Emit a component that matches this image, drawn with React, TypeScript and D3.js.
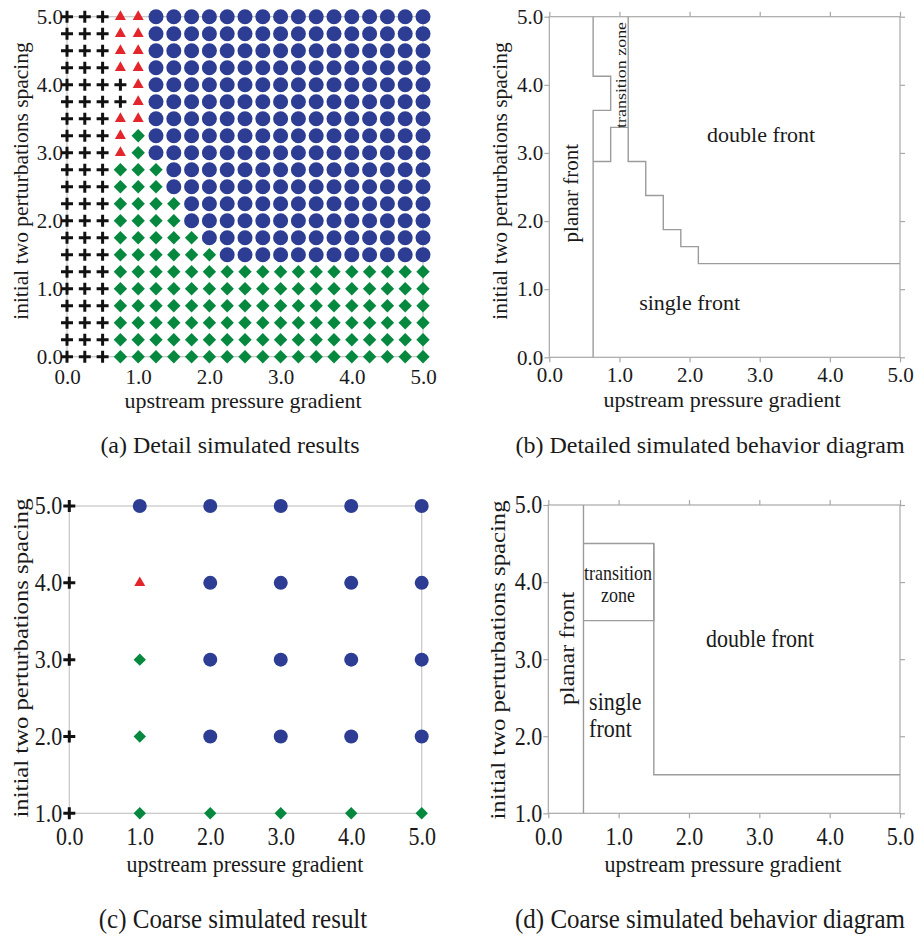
import { useEffect, useRef } from "react";
import * as d3 from "d3";

// fine grid (a), one string per row from spacing 5.0 down to 0.0
// P = planar front (+), T = transition zone (▲), S = single front (◆), D = double front (●)
const FINE_X = [0, 0.25, 0.5, 0.75, 1, 1.25, 1.5, 1.75, 2, 2.25, 2.5, 2.75, 3, 3.25, 3.5, 3.75, 4, 4.25, 4.5, 4.75, 5];
const FINE_Y = [5, 4.75, 4.5, 4.25, 4, 3.75, 3.5, 3.25, 3, 2.75, 2.5, 2.25, 2, 1.75, 1.5, 1.25, 1, 0.75, 0.5, 0.25, 0];
const FINE_RESULTS = [
  "PPP TT DDDD DDDD DDDD DDDD",
  "PPP TT DDDD DDDD DDDD DDDD",
  "PPP TT DDDD DDDD DDDD DDDD",
  "PPP TT DDDD DDDD DDDD DDDD",
  "PPPP T DDDD DDDD DDDD DDDD",
  "PPPP T DDDD DDDD DDDD DDDD",
  "PPP TT DDDD DDDD DDDD DDDD",
  "PPP T S DDDD DDDD DDDD DDDD",
  "PPP T S DDDD DDDD DDDD DDDD",
  "PPP SSS DDD DDDD DDDD DDDD",
  "PPP SSS DDD DDDD DDDD DDDD",
  "PPP SSSS DD DDDD DDDD DDDD",
  "PPP SSSS DD DDDD DDDD DDDD",
  "PPP SSSSS D DDDD DDDD DDDD",
  "PPP SSSSSS DDDD DDDD DDDD",
  "PPP SS SSSS SSSS SSSS SSSS",
  "PPP SS SSSS SSSS SSSS SSSS",
  "PPP SS SSSS SSSS SSSS SSSS",
  "PPP SS SSSS SSSS SSSS SSSS",
  "PPP SS SSSS SSSS SSSS SSSS",
  "PPP SS SSSS SSSS SSSS SSSS",
];

// coarse grid (c)
const COARSE_X = [0, 1, 2, 3, 4, 5];
const COARSE_Y = [5, 4, 3, 2, 1];
const COARSE_RESULTS = ["PDDDDD", "PTDDDD", "PSDDDD", "PSDDDD", "PSSSSS"];

const TICKS_X = [0, 1, 2, 3, 4, 5];
const TICKS_FINE_Y = [0, 1, 2, 3, 4, 5];
const TICKS_COARSE_Y = [1, 2, 3, 4, 5];

// behaviour boundaries, in data units
const FINE_BOUNDS: [number, number][][] = [
  [[0.625, 5], [0.625, 4.125], [0.875, 4.125], [0.875, 3.625], [0.625, 3.625], [0.625, 0]],
  [[0.625, 2.875], [0.875, 2.875], [0.875, 3.375], [1.125, 3.375]],
  [[1.125, 5], [1.125, 2.875], [1.375, 2.875], [1.375, 2.375], [1.625, 2.375], [1.625, 1.875],
   [1.875, 1.875], [1.875, 1.625], [2.125, 1.625], [2.125, 1.375], [5, 1.375]],
];
const COARSE_BOUNDS: [number, number][][] = [
  [[0.5, 1], [0.5, 5]],
  [[0.5, 4.5], [1.5, 4.5], [1.5, 3.5], [0.5, 3.5]],
  [[1.5, 4.5], [1.5, 1.5], [5, 1.5]],
];

const SERIF = "'Liberation Serif', 'Times New Roman', serif";
const INK = "#1a1a1a";
const COLORS: Record<string, string> = { P: "#111111", T: "#e3262b", S: "#06893f", D: "#2c3d93" };
const SY = 1.12; // lower row of the figure is drawn a little taller
const fmt = d3.format(".1f");

type G = d3.Selection<SVGGElement, unknown, null, undefined>;

function label(g: G, str: string, x: number, y: number, size: number, o: { anchor?: string; rotate?: boolean; sy?: number; len?: number } = {}) {
  const t = g
    .append("text")
    .attr("transform", `translate(${x},${y}) scale(1,${o.sy ?? 1})${o.rotate ? " rotate(-90)" : ""}`)
    .attr("text-anchor", o.anchor ?? "middle")
    .attr("font-family", SERIF)
    .attr("font-size", size)
    .attr("fill", INK)
    .text(str);
  if (o.rotate) t.attr("dy", "0.3em");
  if (o.len) t.attr("textLength", o.len).attr("lengthAdjust", "spacingAndGlyphs");
  return t;
}

function styleAxis(a: G, size: number, sy: number, color: string) {
  a.select(".domain").remove();
  a.selectAll(".tick line").attr("stroke", color).attr("stroke-width", 1.2);
  a.selectAll("text").attr("font-size", size).attr("font-family", SERIF).attr("fill", INK);
  if (sy !== 1) a.selectAll("text").attr("transform", `scale(1,${sy})`);
}

function markers(g: G, xs: number[], ys: number[], rows: string[], x: d3.ScaleLinear<number, number>, y: d3.ScaleLinear<number, number>, r: number, h: number, tri: number, a: number) {
  const cells = rows.flatMap((row, i) =>
    row.replace(/ /g, "").split("").map((c, j) => ({ x: xs[j], y: ys[i], c }))
  );
  const shape = (c: string) =>
    c === "D"
      ? d3.symbol(d3.symbolCircle, Math.PI * r * r)()!
      : c === "S"
      ? `M0,${-h}L${h},0L0,${h}L${-h},0Z`
      : c === "T"
      ? d3.symbol(d3.symbolTriangle, (tri * tri * Math.sqrt(3)) / 4)()!
      : `M${-a},0H${a}M0,${-a}V${a}`;
  g.append("g")
    .selectAll("path")
    .data(cells)
    .join("path")
    .attr("transform", (d) => `translate(${x(d.x)},${y(d.y)})`)
    .attr("d", (d) => shape(d.c))
    .attr("fill", (d) => (d.c === "P" ? "none" : COLORS[d.c]))
    .attr("stroke", (d) => (d.c === "P" ? COLORS.P : "none"))
    .attr("stroke-width", 3);
}

function boxAxes(g: G, x: d3.ScaleLinear<number, number>, y: d3.ScaleLinear<number, number>, yTicks: number[], size: number, sy: number, pad: number) {
  const c = "#a8a8a8";
  const [x0, x1] = x.range();
  const [y0, y1] = y.range();
  g.append("rect").attr("x", x0).attr("y", y1).attr("width", x1 - x0).attr("height", y0 - y1).attr("fill", "none").attr("stroke", c).attr("stroke-width", 1.2);
  const b = g.append("g").attr("transform", `translate(0,${y0})`).call(d3.axisBottom(x).tickValues(TICKS_X).tickFormat(fmt).tickSize(5).tickPadding(pad));
  styleAxis(b, size, sy, c);
  const l = g.append("g").attr("transform", `translate(${x0},0)`).call(d3.axisLeft(y).tickValues(yTicks).tickFormat(fmt).tickSize(5).tickPadding(1));
  styleAxis(l, size, sy, c);
  const t = g.append("g").attr("transform", `translate(0,${y1})`).call(d3.axisTop(x).tickValues(TICKS_X).tickFormat(() => "").tickSize(5));
  styleAxis(t, size, 1, c);
  const r = g.append("g").attr("transform", `translate(${x1},0)`).call(d3.axisRight(y).tickValues(yTicks).tickFormat(() => "").tickSize(5));
  styleAxis(r, size, 1, c);
}

function plainAxes(g: G, x: d3.ScaleLinear<number, number>, y: d3.ScaleLinear<number, number>, yTicks: number[], size: number, sy: number, padX: number, padY: number) {
  const [x0, x1] = x.range();
  const [y0, y1] = y.range();
  g.append("rect").attr("x", x0).attr("y", y1).attr("width", x1 - x0).attr("height", y0 - y1).attr("fill", "none").attr("stroke", "#c6c6c6").attr("stroke-width", 1.2);
  const b = g.append("g").attr("transform", `translate(0,${y0})`).call(d3.axisBottom(x).tickValues(TICKS_X).tickFormat(fmt).tickSize(0).tickPadding(padX));
  styleAxis(b, size, sy, "none");
  const l = g.append("g").attr("transform", `translate(${x0},0)`).call(d3.axisLeft(y).tickValues(yTicks).tickFormat(fmt).tickSize(0).tickPadding(padY));
  styleAxis(l, size, sy, "none");
}

export default function App() {
  const ref = useRef<SVGSVGElement>(null);

  useEffect(() => {
    if (!ref.current) return;
    const svg = d3.select(ref.current);
    svg.selectAll("*").remove();
    const root = svg.append("g") as unknown as G;
    const line = (x: d3.ScaleLinear<number, number>, y: d3.ScaleLinear<number, number>) =>
      d3.line<[number, number]>().x((d) => x(d[0])).y((d) => y(d[1]));
    const Y_TITLE = "initial two perturbations spacing";
    const X_TITLE = "upstream pressure gradient";

    // (a) detail simulated results
    const xA = d3.scaleLinear().domain([0, 5]).range([67, 423]);
    const yA = d3.scaleLinear().domain([0, 5]).range([356.7, 16.7]);
    const gA = root.append("g") as G;
    plainAxes(gA, xA, yA, TICKS_FINE_Y, 21, 1, 12, 4);
    markers(gA, FINE_X, FINE_Y, FINE_RESULTS, xA, yA, 7.5, 6.7, 11, 6);
    label(gA, X_TITLE, 243, 408, 22);
    label(gA, Y_TITLE, 22, 181, 21.5, { rotate: true });
    label(gA, "(a) Detail simulated results", 230, 453, 24);

    // (b) detailed behaviour diagram
    const xB = d3.scaleLinear().domain([0, 5]).range([549.3, 900]);
    const yB = d3.scaleLinear().domain([0, 5]).range([357.3, 16.7]);
    const gB = root.append("g") as G;
    boxAxes(gB, xB, yB, TICKS_FINE_Y, 21, 1, 5);
    gB.append("g")
      .selectAll("path")
      .data(FINE_BOUNDS)
      .join("path")
      .attr("d", (d) => line(xB, yB)(d))
      .attr("fill", "none")
      .attr("stroke", "#9c9c9c")
      .attr("stroke-width", 1.4);
    label(gB, "planar front", xB(0.32), yB(2.41), 21, { rotate: true });
    label(gB, "transition zone", xB(1.03), yB(4.145), 15, { rotate: true, len: 106 });
    label(gB, "double front", xB(3.02), yB(3.16), 22);
    label(gB, "single front", xB(2.0), yB(0.7), 22);
    label(gB, X_TITLE, 722, 407, 22);
    label(gB, Y_TITLE, 501, 181, 21.5, { rotate: true });
    label(gB, "(b) Detailed simulated behavior diagram", 710, 453, 24);

    // (c) coarse simulated result
    const xC = d3.scaleLinear().domain([0, 5]).range([69.3, 421.7]);
    const yC = d3.scaleLinear().domain([1, 5]).range([813.3, 506]);
    const gC = root.append("g") as G;
    plainAxes(gC, xC, yC, TICKS_COARSE_Y, 22, SY, 12.5, 7);
    markers(gC, COARSE_X, COARSE_Y, COARSE_RESULTS, xC, yC, 7, 6.2, 11, 6);
    label(gC, X_TITLE, 245, 872, 22, { sy: 1.06 });
    label(gC, Y_TITLE, 22, 658, 21.5, { rotate: true, sy: 1.15 });
    label(gC, "(c) Coarse simulated result", 233, 928, 25, { sy: 1.1 });

    // (d) coarse behaviour diagram
    const xD = d3.scaleLinear().domain([0, 5]).range([548.3, 900]);
    const yD = d3.scaleLinear().domain([1, 5]).range([813.3, 505]);
    const gD = root.append("g") as G;
    boxAxes(gD, xD, yD, TICKS_COARSE_Y, 22, SY, 7.5);
    gD.append("g")
      .selectAll("path")
      .data(COARSE_BOUNDS)
      .join("path")
      .attr("d", (d) => line(xD, yD)(d))
      .attr("fill", "none")
      .attr("stroke", "#9c9c9c")
      .attr("stroke-width", 1.4);
    label(gD, "planar front", xD(0.27), yD(3.14), 21, { rotate: true, sy: 1.15 });
    label(gD, "transition", xD(0.99), yD(4.03), 18, { sy: SY });
    label(gD, "zone", xD(0.99), yD(3.74), 18, { sy: SY });
    label(gD, "single", xD(0.58), yD(2.34), 22, { anchor: "start", sy: SY });
    label(gD, "front", xD(0.58), yD(1.99), 22, { anchor: "start", sy: SY });
    label(gD, "double front", xD(3.01), yD(3.16), 22, { sy: SY });
    label(gD, X_TITLE, 723, 872, 22, { sy: 1.06 });
    label(gD, Y_TITLE, 499, 660, 21.5, { rotate: true, sy: 1.15 });
    label(gD, "(d) Coarse simulated behavior diagram", 710, 928, 25, { sy: 1.1 });
  }, []);

  return <svg ref={ref} width={917} height={936} style={{ position: "absolute", left: 0, top: 0, background: "#fff" }} />;
}
